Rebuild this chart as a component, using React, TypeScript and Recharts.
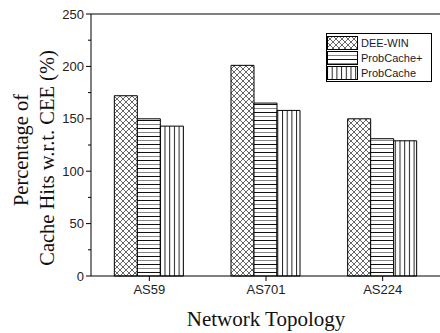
import React from 'react';
import {
  BarChart,
  Bar,
  XAxis,
  YAxis,
  ReferenceLine,
} from 'recharts';

const topologies = ['AS59', 'AS701', 'AS224'];
const deeWin = [172, 201, 150];
const probCachePlus = [150, 165, 131];
const probCache = [143, 158, 129];
const yTicks = [0, 25, 50, 75, 100, 125, 150, 175, 200, 225, 250];

const data = topologies.map((name, i) => ({
  name,
  deeWin: deeWin[i],
  probCachePlus: probCachePlus[i],
  probCache: probCache[i],
}));

const series = [
  { key: 'deeWin', label: 'DEE-WIN', pattern: 'cross' },
  { key: 'probCachePlus', label: 'ProbCache+', pattern: 'hlines' },
  { key: 'probCache', label: 'ProbCache', pattern: 'vlines' },
];

const Patterns = ({ prefix }) => (
  <defs>
    <pattern id={prefix + 'cross'} width="6" height="6" patternUnits="userSpaceOnUse">
      <rect width="6" height="6" fill="#fff" />
      <path d="M0,0 L6,6 M6,0 L0,6" stroke="#555" strokeWidth="0.9" />
    </pattern>
    <pattern id={prefix + 'hlines'} width="6" height="8" patternUnits="userSpaceOnUse">
      <rect width="6" height="8" fill="#fff" />
      <line x1="0" y1="0.5" x2="6" y2="0.5" stroke="#111" strokeWidth="1" />
      <line x1="0" y1="4.5" x2="6" y2="4.5" stroke="#888" strokeWidth="1" />
    </pattern>
    <pattern id={prefix + 'vlines'} width="4.7" height="6" patternUnits="userSpaceOnUse">
      <rect width="4.7" height="6" fill="#fff" />
      <line x1="0.5" y1="0" x2="0.5" y2="6" stroke="#222" strokeWidth="1" />
    </pattern>
  </defs>
);

const LegendBox = () => (
  <div
    style={{
      position: 'absolute',
      left: 326,
      top: 33,
      border: '1px solid #000',
      background: '#fff',
      width: 104,
      padding: '1px 0',
      fontFamily: 'Liberation Sans, Arial, sans-serif',
      fontSize: 11,
      color: '#1a1a2a',
    }}
  >
    {series.map((s) => (
      <div key={s.key} style={{ display: 'flex', alignItems: 'center', height: 15 }}>
        <svg width={31} height={14} style={{ display: 'block' }}>
          <Patterns prefix={'lg' + s.key} />
          <rect x={0.5} y={0.5} width={30} height={13} fill={`url(#lg${s.key}${s.pattern})`} stroke="#000" />
        </svg>
        <span style={{ marginLeft: 3 }}>{s.label}</span>
      </div>
    ))}
  </div>
);

const YTick = ({ x, y, payload }) => {
  const major = payload.value % 50 === 0;
  return (
    <g>
      <line x1={x + (major ? 2 : 4)} y1={y} x2={x + 7} y2={y} stroke="#000" />
      {major && (
        <text x={x} y={y} textAnchor="end" dominantBaseline="central" fontSize={13} fill="#222"
          fontFamily="Liberation Sans, Arial, sans-serif">
          {payload.value}
        </text>
      )}
    </g>
  );
};

const YLabel = () => (
  <g fontFamily="Liberation Serif, Times New Roman, serif" fontSize={20.5} fill="#111">
    <text transform="translate(21,150) rotate(-90)" textAnchor="middle" dominantBaseline="central">
      Percentage of
    </text>
    <text transform="translate(47,158) rotate(-90)" textAnchor="middle" dominantBaseline="central">
      Cache Hits w.r.t. CEE (%)
    </text>
  </g>
);

export default function App() {
  return (
    <div style={{ position: 'absolute', left: 0, top: 0, width: 440, height: 333, overflow: 'hidden', background: '#fff' }}>
      <BarChart
        width={460}
        height={333}
        data={data}
        margin={{ top: 14, right: 19, left: 0, bottom: 0 }}
        barCategoryGap="20%"
        barGap={0}
      >
        <Patterns prefix="bar" />
        <XAxis
          dataKey="name"
          height={57}
          tickSize={5}
          tickMargin={4}
          axisLine={{ stroke: '#000' }}
          tickLine={{ stroke: '#000' }}
          tick={{ fontSize: 13, fill: '#222', fontFamily: 'Liberation Sans, Arial, sans-serif' }}
          label={{
            value: 'Network Topology',
            position: 'insideBottom',
            offset: 7,
            fontSize: 21,
            fill: '#111',
            fontFamily: 'Liberation Serif, Times New Roman, serif',
          }}
        />
        <YAxis
          width={91}
          domain={[0, 250]}
          ticks={yTicks}
          interval={0}
          tickSize={5}
          tickMargin={2}
          tickLine={false}
          axisLine={{ stroke: '#000' }}
          tick={<YTick />}
          label={{ content: () => <YLabel /> }}
        />
        <ReferenceLine y={250} stroke="#000" />
        {series.map((s) => (
          <Bar
            key={s.key}
            dataKey={s.key}
            name={s.label}
            fill={`url(#bar${s.pattern})`}
            stroke="#000"
            strokeWidth={1}
            isAnimationActive={false}
          />
        ))}
      </BarChart>
      <LegendBox />
    </div>
  );
}
